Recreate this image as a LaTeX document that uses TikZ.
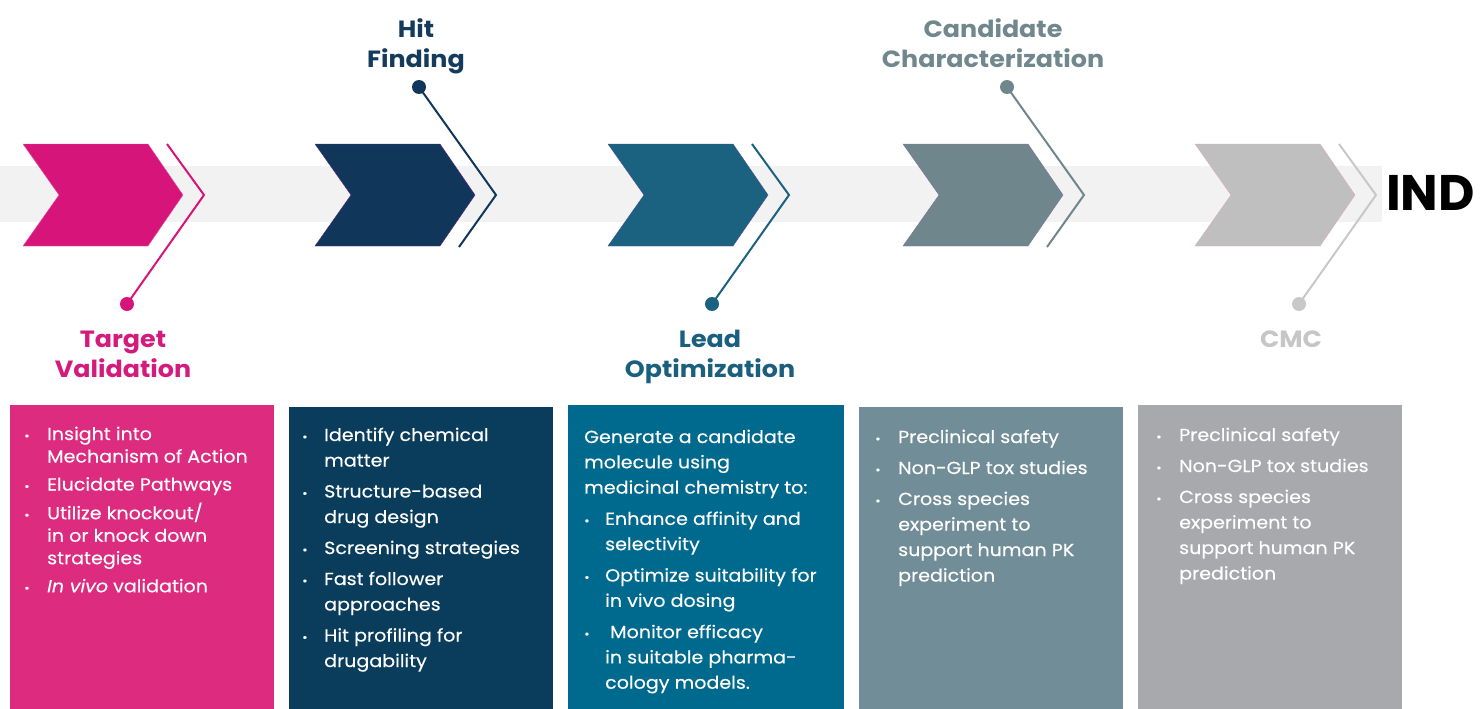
\documentclass[tikz,border=0pt]{standalone}
\usepackage{fontspec}
\setmainfont{Poppins}[FakeStretch=1.08]
\newfontfamily\bodyfont{Poppins}[FakeStretch=1.09, FakeBold=0.25]
\newfontfamily\indfont{Poppins}
\usepackage{array}
\definecolor{band}{HTML}{F2F2F2}
\definecolor{cA}{HTML}{D6147A}
\definecolor{bA}{HTML}{DD2C80}
\definecolor{tA}{HTML}{D41B7C}
\definecolor{cB}{HTML}{10375A}
\definecolor{bB}{HTML}{0A3D5C}
\definecolor{tB}{HTML}{143A5C}
\definecolor{cC}{HTML}{1B6280}
\definecolor{bC}{HTML}{006A8E}
\definecolor{tC}{HTML}{1B5F7F}
\definecolor{cD}{HTML}{6F868C}
\definecolor{bD}{HTML}{718E98}
\definecolor{tD}{HTML}{6F878D}
\definecolor{cE}{HTML}{BFBFBF}
\definecolor{bE}{HTML}{A8A9AD}
\definecolor{tE}{HTML}{C6C6C6}
\definecolor{lE}{HTML}{C8C8C8}
\definecolor{edgeE}{HTML}{DDA8C6}
\newcommand\bdot{{\fontsize{12}{12}\selectfont\textbullet}}
\tikzset{
  chev/.style={line width=0.4pt},
  conn/.style={line width=2pt},
  dotnode/.style={circle, fill=#1, inner sep=0pt, minimum size=14pt},
  title/.style={font=\bfseries\fontsize{23.5}{30}\selectfont, align=center, inner sep=0pt, anchor=base},
  boxtext/.style={anchor=base west, inner sep=0pt, text=white, align=left}
}
\begin{document}
\begin{tikzpicture}[x=1pt,y=-1pt]
\path[use as bounding box] (0,0) rectangle (1484,709);
% band
\fill[band] (0,166) rectangle (1382,222);
% chevrons
\foreach \X/\c/\d in {23/cA/cA!70!white, 315/cB/cB!70!magenta, 608/cC/cC!80!magenta, 903/cD/cD!85!magenta, 1195/cE/edgeE}{
  \filldraw[chev, fill=\c, draw=\d] (\X,144) -- ++(125,0) -- ++(35,51) -- ++(-35,51) -- ++(-125,0) -- ++(36,-51) -- cycle;
}
% stage 1 (down)
\coordinate (s1) at (167,144); \coordinate (p1) at (204,195);
\node[dotnode=cA] (d1) at (127,304) {};
\draw[conn, cA] (s1) -- (p1) -- (d1.center);
% stage 2 (up)
\node[dotnode=cB] (d2) at (419,87) {};
\coordinate (p2) at (496,195); \coordinate (s2) at (459,247);
\draw[conn, cB] (d2.center) -- (p2) -- (s2);
% stage 3 (down)
\coordinate (s3) at (752,144); \coordinate (p3) at (789,195);
\node[dotnode=cC] (d3) at (712,304) {};
\draw[conn, cC] (s3) -- (p3) -- (d3.center);
% stage 4 (up)
\node[dotnode=cD] (d4) at (1007,87) {};
\coordinate (p4) at (1084,195); \coordinate (s4) at (1047,247);
\draw[conn, cD] (d4.center) -- (p4) -- (s4);
% stage 5 (down)
\coordinate (s5) at (1339,144); \coordinate (p5) at (1376,195);
\node[dotnode=lE] (d5) at (1299,304) {};
\draw[conn, lE] (s5) -- (p5) -- (d5.center);
% IND
\node[anchor=base west, inner sep=0pt, font=\indfont\bfseries\fontsize{50}{50}\selectfont] (ind) at (1386,210) {IND};
% titles (base = baseline of last line)
\node[title, text=tA] (t1) at (123,377) {Target\\Validation};
\node[title, text=tB] (t2) at (416,67) {Hit\\Finding};
\node[title, text=tC] (t3) at (710,377) {Lead\\Optimization};
\node[title, text=tD] (t4) at (993,67) {Candidate\\Characterization};
\node[title, text=tE] (t5) at (1291,347) {CMC};
% boxes
\fill[bA] (10,405) rectangle (274,709);
\fill[bB] (289,407) rectangle (553,709);
\fill[bC] (568,405) rectangle (844,709);
\fill[bD] (859,407) rectangle (1123,709);
\fill[bE] (1138,405) rectangle (1402,709);
% box texts
\node[boxtext] (x1) at (24,440) {\bodyfont\fontsize{17.5}{22.5}\selectfont
\begin{tabular}[t]{@{}p{23pt}@{}l@{}}
\bdot & Insight into\\
 & Mechanism of Action\\[5.5pt]
\bdot & Elucidate Pathways\\[5.5pt]
\bdot & Utilize knockout/\\
 & in or knock down\\
 & strategies\\[5.5pt]
\bdot & \textit{In vivo} validation
\end{tabular}};
\node[boxtext] (x2) at (302,441) {\bodyfont\fontsize{17.5}{25.5}\selectfont
\begin{tabular}[t]{@{}p{22pt}@{}l@{}}
\bdot & Identify chemical\\
 & matter\\[5.5pt]
\bdot & Structure-based\\
 & drug design\\[5.5pt]
\bdot & Screening strategies\\[5.5pt]
\bdot & Fast follower\\
 & approaches\\[5.5pt]
\bdot & Hit profiling for\\
 & drugability
\end{tabular}};
\node[boxtext] (x3) at (584,443) {\bodyfont\fontsize{17.5}{25.3}\selectfont
\begin{tabular}[t]{@{}p{21pt}@{}l@{}}
\multicolumn{2}{@{}l@{}}{Generate a candidate}\\
\multicolumn{2}{@{}l@{}}{molecule using}\\
\multicolumn{2}{@{}l@{}}{medicinal chemistry to:}\\[6pt]
\bdot & Enhance affinity and\\
 & selectivity\\[6pt]
\bdot & Optimize suitability for\\
 & in vivo dosing\\[6pt]
\bdot & \hspace{5pt}Monitor efficacy\\
 & in suitable pharma-\\
 & cology models.
\end{tabular}};
\node[boxtext] (x4) at (875,443) {\bodyfont\fontsize{17.5}{25.5}\selectfont
\begin{tabular}[t]{@{}p{23pt}@{}l@{}}
\bdot & Preclinical safety\\[5.5pt]
\bdot & Non-GLP tox studies\\[5.5pt]
\bdot & Cross species\\
 & experiment to\\
 & support human PK\\
 & prediction
\end{tabular}};
\node[boxtext] (x5) at (1156,441) {\bodyfont\fontsize{17.5}{25.5}\selectfont
\begin{tabular}[t]{@{}p{23pt}@{}l@{}}
\bdot & Preclinical safety\\[5.5pt]
\bdot & Non-GLP tox studies\\[5.5pt]
\bdot & Cross species\\
 & experiment to\\
 & support human PK\\
 & prediction
\end{tabular}};
\end{tikzpicture}
\end{document}
